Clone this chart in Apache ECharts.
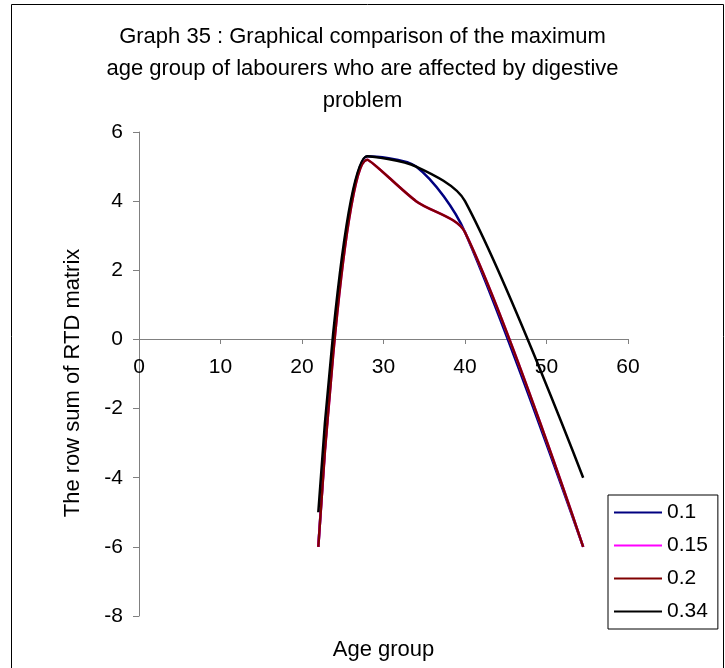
<!DOCTYPE html>
<html><head><meta charset="utf-8">
<script src="https://cdn.jsdelivr.net/npm/echarts@6/dist/echarts.min.js"></script>
<style>html,body{margin:0;padding:0;background:#fff}#c{width:725px;height:668px}</style>
</head><body><div id="c"></div>
<script>
const titleLines = ['Graph 35 : Graphical comparison of the maximum', 'age group of labourers who are affected by digestive', 'problem'];
const xAxisName = 'Age group';
const yAxisName = 'The row sum of RTD matrix';
const ageGroups = [22, 28, 34, 40, 54.5];
const seriesNames = ['0.1', '0.15', '0.2', '0.34'];
const values01 = [-6, 5.3, 5.0, 3.1, -6];
const values015 = [-6, 5.2, 4.0, 3.1, -6];
const values02 = [-6, 5.2, 4.0, 3.1, -6];
const values034 = [-5, 5.3, 5.0, 4.0, -4];
const xMin = 0, xMax = 60, xStep = 10;
const yMin = -8, yMax = 6, yStep = 2;

const seriesValues = [values01, values015, values02, values034];
const seriesColors = ['#000080', '#FF00FF', '#800000', '#000000'];
const FONT = '"Liberation Sans", Arial, sans-serif';

const chart = echarts.init(document.getElementById('c'));
chart.setOption({
  backgroundColor: '#fff',
  animation: false,
  textStyle: { fontFamily: FONT },
  title: {
    text: titleLines.join('\n'),
    left: 'center',
    top: 21,
    padding: [0, 0, 0, 10],
    textStyle: { fontFamily: FONT, fontSize: 22, fontWeight: 'normal', color: '#000', lineHeight: 32 }
  },
  graphic: [{
    type: 'rect', silent: true, z: -1,
    shape: { x: 11.5, y: 4.5, width: 712, height: 680 },
    style: { fill: 'none', stroke: '#000', lineWidth: 1 }
  }],
  legend: {
    orient: 'vertical',
    left: 608, top: 495,
    icon: 'rect',
    itemWidth: 48, itemHeight: 2, itemGap: 12,
    padding: [7, 10, 7, 6],
    borderColor: '#000', borderWidth: 1, backgroundColor: '#fff',
    textStyle: { fontFamily: FONT, fontSize: 21, color: '#000', lineHeight: 21 },
    data: seriesNames
  },
  grid: { left: 139, right: 97, top: 132, bottom: 52, outerBoundsMode: 'none' },
  xAxis: {
    type: 'value', min: xMin, max: xMax, interval: xStep,
    offset: -277,
    name: xAxisName, nameLocation: 'middle', nameGap: 300,
    nameTextStyle: { fontFamily: FONT, fontSize: 22, color: '#000' },
    axisLine: { onZero: false, lineStyle: { color: '#808080', width: 1 } },
    axisTick: { show: true, length: 5, lineStyle: { color: '#808080' } },
    axisLabel: { fontFamily: FONT, fontSize: 21, color: '#000', margin: 18 },
    splitLine: { show: false }
  },
  yAxis: {
    type: 'value', min: yMin, max: yMax, interval: yStep,
    name: yAxisName, nameLocation: 'middle', nameGap: 55, nameRotate: 90,
    nameTextStyle: { fontFamily: FONT, fontSize: 22, color: '#000', padding: [0, 18, 0, 0] },
    axisLine: { show: true, onZero: false, lineStyle: { color: '#808080', width: 1 } },
    axisTick: { show: true, length: 6, lineStyle: { color: '#808080' } },
    axisLabel: { fontFamily: FONT, fontSize: 21, color: '#000', margin: 16 },
    splitLine: { show: false }
  },
  series: seriesNames.map((name, i) => ({
    name, type: 'line',
    data: ageGroups.map((x, j) => [x, seriesValues[i][j]]),
    smooth: 0.3,
    symbol: 'none', showSymbol: false,
    lineStyle: { color: seriesColors[i], width: 2.5 },
    itemStyle: { color: seriesColors[i] }
  }))
});
</script></body></html>
